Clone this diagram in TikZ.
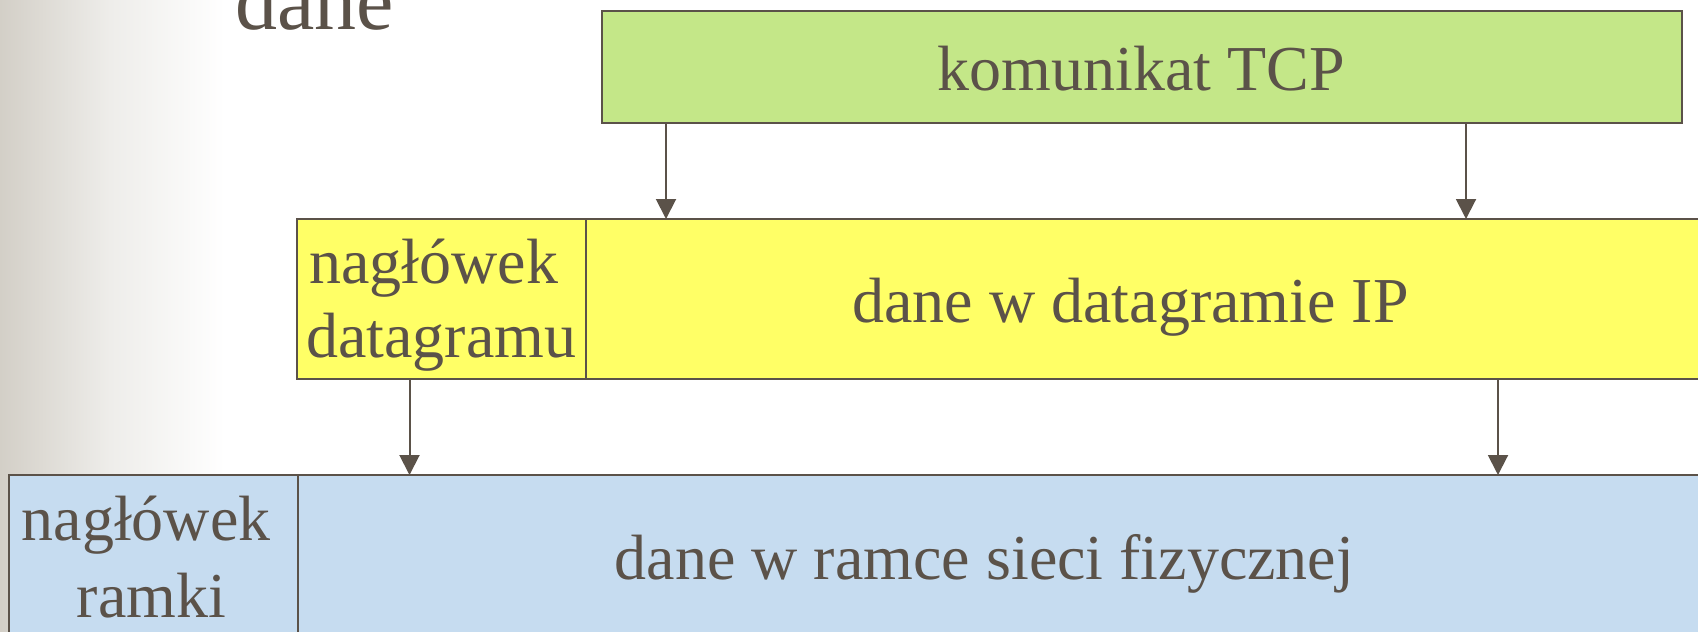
\documentclass[tikz,border=0pt]{standalone}
\usepackage{fontspec}
\setmainfont{Liberation Serif}
\usetikzlibrary{arrows.meta}
\definecolor{ink}{HTML}{5B5249}
\definecolor{tcpgreen}{HTML}{C4E788}
\definecolor{ipyellow}{HTML}{FFFF66}
\definecolor{frameblue}{HTML}{C6DCF0}
\definecolor{fadeA}{HTML}{D3CFC7}
\definecolor{fadeB}{HTML}{EEEDEA}
\begin{document}
\begin{tikzpicture}[x=1pt,y=-1pt,
  box/.style={draw=ink, line width=2pt, rectangle, inner sep=0pt, outer sep=0pt, anchor=north west},
  arr/.style={draw=ink, line width=2pt, -{Triangle[length=20pt,width=20pt]}},
  txt/.style={text=ink, inner sep=0pt, font=\fontsize{64}{74}\selectfont}]
  \useasboundingbox (0,0) rectangle (1698,632);
  \clip (0,0) rectangle (1698,632);
  \fill[white] (0,0) rectangle (1698,632);
  % soft grey fade along the left edge of the slide
  \shade[left color=fadeA, right color=fadeB] (0,0) rectangle (110,632);
  \shade[left color=fadeB, right color=white] (110,0) rectangle (225,632);

  % slide title
  \node[txt, font=\fontsize{84}{90}\selectfont, anchor=base west] (title) at (235,29) {dane};

  % TCP segment
  \node[box, fill=tcpgreen, minimum width=1080pt, minimum height=112pt] (tcp) at (602,11) {};
  \node[txt, anchor=base] (tcptext) at (1141,90) {komunikat TCP};

  % IP datagram
  \node[box, fill=ipyellow, minimum width=289pt, minimum height=160pt] (iphdr) at (297,219) {};
  \node[box, fill=ipyellow, minimum width=1124pt, minimum height=160pt] (ipdata) at (586,219) {};
  \node[txt, anchor=base west] (iphdrA) at (309,283) {nagłówek};
  \node[txt, anchor=base west] (iphdrB) at (306,357) {datagramu};
  \node[txt, anchor=base] (iptext) at (1130.5,322) {dane w datagramie IP};

  % physical frame
  \node[box, fill=frameblue, minimum width=289pt, minimum height=175pt] (frhdr) at (9,475) {};
  \node[box, fill=frameblue, minimum width=1412pt, minimum height=175pt] (frdata) at (298,475) {};
  \node[txt, anchor=base] (frhdrA) at (146,540) {nagłówek};
  \node[txt, anchor=base] (frhdrB) at (151.5,617) {ramki};
  \node[txt, anchor=base] (frtext) at (984.5,579) {dane w ramce sieci fizycznej};

  % encapsulation arrows
  \coordinate (xa) at (666,0);
  \coordinate (xb) at (1466,0);
  \coordinate (xc) at (409.5,0);
  \coordinate (xd) at (1498,0);
  \draw[arr] (tcp.south -| xa) -- (ipdata.north -| xa);
  \draw[arr] (tcp.south -| xb) -- (ipdata.north -| xb);
  \draw[arr] (iphdr.south -| xc) -- (frdata.north -| xc);
  \draw[arr] (ipdata.south -| xd) -- (frdata.north -| xd);
\end{tikzpicture}
\end{document}
